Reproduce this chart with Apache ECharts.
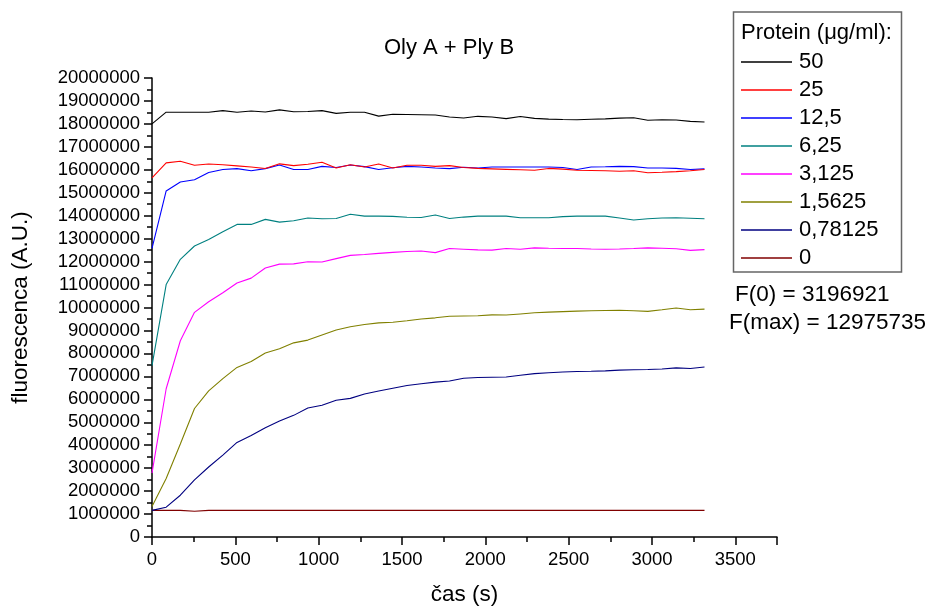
<!DOCTYPE html>
<html>
<head>
<meta charset="utf-8">
<script src="https://cdn.jsdelivr.net/npm/echarts@6/dist/echarts.min.js"></script>
<style>html,body{margin:0;padding:0;background:#fff}#c{width:930px;height:611px}</style>
</head>
<body>
<div id="c"></div>
<script>
// Time points (s): one reading every ~85 s
var times = [0,85,170,255,340,425,510,595,680,765,850,935,1020,1105,1190,1275,1360,1445,1530,1615,1700,1785,1870,1955,2040,2125,2210,2295,2380,2465,2550,2635,2720,2805,2890,2975,3060,3145,3230,3315];

// Series values in millions of A.U.
var s50 = [18.00,18.51,18.51,18.51,18.51,18.58,18.51,18.56,18.52,18.61,18.53,18.54,18.58,18.46,18.51,18.51,18.34,18.42,18.41,18.40,18.39,18.30,18.26,18.33,18.30,18.23,18.32,18.24,18.21,18.19,18.18,18.20,18.22,18.25,18.27,18.16,18.18,18.17,18.11,18.08];
var s25 = [15.65,16.30,16.37,16.20,16.25,16.22,16.17,16.12,16.06,16.26,16.18,16.24,16.33,16.08,16.22,16.12,16.25,16.08,16.20,16.20,16.15,16.18,16.10,16.06,16.04,16.02,16.00,15.98,16.06,16.03,15.98,15.97,15.96,15.94,15.96,15.87,15.89,15.92,15.96,16.01];
var s12_5 = [12.58,15.08,15.47,15.57,15.88,16.01,16.05,15.96,16.05,16.21,16.01,16.01,16.15,16.10,16.21,16.14,16.01,16.09,16.15,16.12,16.08,16.05,16.11,16.08,16.12,16.12,16.12,16.12,16.12,16.10,16.01,16.12,16.13,16.15,16.14,16.08,16.08,16.06,16.01,16.04];
var s6_25 = [7.47,11.00,12.10,12.68,12.96,13.30,13.62,13.62,13.84,13.72,13.78,13.90,13.87,13.88,14.06,13.98,13.98,13.97,13.93,13.92,14.03,13.88,13.94,13.98,13.99,13.98,13.91,13.91,13.91,13.96,13.98,13.98,13.98,13.90,13.81,13.87,13.90,13.91,13.89,13.87];
var s3_125 = [2.78,6.46,8.55,9.79,10.25,10.64,11.07,11.28,11.72,11.89,11.90,11.99,11.98,12.13,12.27,12.31,12.36,12.40,12.44,12.46,12.39,12.57,12.54,12.51,12.50,12.57,12.54,12.60,12.58,12.57,12.57,12.55,12.54,12.55,12.57,12.60,12.58,12.56,12.49,12.52];
var s1_5625 = [1.33,2.55,4.05,5.60,6.37,6.90,7.39,7.65,8.02,8.20,8.46,8.58,8.80,9.02,9.16,9.26,9.33,9.36,9.42,9.50,9.55,9.62,9.63,9.64,9.68,9.67,9.72,9.77,9.80,9.82,9.84,9.86,9.87,9.88,9.86,9.83,9.90,9.98,9.90,9.93];
var s0_78125 = [1.16,1.30,1.82,2.49,3.05,3.57,4.12,4.42,4.76,5.05,5.30,5.62,5.74,5.96,6.04,6.23,6.36,6.48,6.60,6.68,6.75,6.80,6.92,6.95,6.96,6.97,7.05,7.12,7.16,7.19,7.21,7.22,7.24,7.27,7.29,7.30,7.32,7.37,7.34,7.41];
var s0 = [1.16,1.16,1.16,1.12,1.16,1.16,1.16,1.16,1.16,1.16,1.16,1.16,1.16,1.16,1.16,1.16,1.16,1.16,1.16,1.16,1.16,1.16,1.16,1.16,1.16,1.16,1.16,1.16,1.16,1.16,1.16,1.16,1.16,1.16,1.16,1.16,1.16,1.16,1.16,1.16];

var seriesNames = ['50','25','12,5','6,25','3,125','1,5625','0,78125','0'];
var seriesValues = [s50,s25,s12_5,s6_25,s3_125,s1_5625,s0_78125,s0];
var seriesColors = ['#000000','#ff0000','#0000ff','#008080','#ff00ff','#808000','#000080','#800000'];

var titleText = 'Oly A + Ply B';
var xName = 'čas (s)';
var yName = 'fluorescenca (A.U.)';
var legendTitle = 'Protein (μg/ml):';
var note1 = 'F(0) = 3196921';
var note2 = 'F(max) = 12975735';

var FONT = '"Liberation Sans", Arial, sans-serif';

var series = seriesNames.map(function(n, k){
  return {
    name: n, type: 'line', symbol: 'none', showSymbol: false,
    data: times.map(function(t, i){ return [t, Math.round(seriesValues[k][i]*1e6)]; }),
    lineStyle: {color: seriesColors[k], width: 1.1},
    itemStyle: {color: seriesColors[k]},
    animation: false, z: 10 - k
  };
});

function plain(v){ return String(Math.round(v)); }

var chart = echarts.init(document.getElementById('c'), null, {renderer: 'canvas'});
chart.setOption({
  animation: false,
  backgroundColor: '#fff',
  grid: {left: 152, right: 153, top: 78, bottom: 72, containLabel: false},
  legend: {
    orient: 'vertical', left: 741, top: 51, padding: 0,
    itemWidth: 51, itemHeight: 14, itemGap: 6,
    textStyle: {fontFamily: FONT, fontSize: 22, color: '#000', padding: [0,0,0,2]},
    data: seriesNames.map(function(n,k){ return {name: n, icon: 'path://M0,0 L51,0 L51,1.5 L0,1.5 Z'}; })
  },
  xAxis: {
    type: 'value', min: 0, max: 3750, interval: 500,
    name: xName, nameLocation: 'middle', nameGap: 46,
    nameTextStyle: {fontFamily: FONT, fontSize: 22.5, color: '#000'},
    axisLine: {show: true, onZero: false, lineStyle: {color: '#000', width: 1.5}},
    axisTick: {show: true, length: 8, lineStyle: {color: '#000', width: 1.5}},
    minorTick: {show: true, splitNumber: 2, length: 5, lineStyle: {color: '#000', width: 1.5}},
    axisLabel: {fontFamily: FONT, fontSize: 18.5, color: '#000', margin: 13, showMaxLabel: false, formatter: plain},
    splitLine: {show: false}
  },
  yAxis: {
    type: 'value', min: 0, max: 20000000, interval: 1000000,
    name: yName, nameLocation: 'middle', nameGap: 120,
    nameTextStyle: {fontFamily: FONT, fontSize: 22.5, color: '#000'},
    axisLine: {show: true, onZero: false, lineStyle: {color: '#000', width: 1.5}},
    axisTick: {show: true, length: 8, lineStyle: {color: '#000', width: 1.5}},
    minorTick: {show: true, splitNumber: 2, length: 5, lineStyle: {color: '#000', width: 1.5}},
    axisLabel: {fontFamily: FONT, fontSize: 18.5, color: '#000', margin: 12, formatter: plain},
    splitLine: {show: false}
  },
  graphic: [
    {type: 'text', x: 449, y: 48, style: {text: titleText, font: '22px ' + FONT, fill: '#000', textAlign: 'center', textVerticalAlign: 'middle'}},
    {type: 'rect', shape: {x: 733.5, y: 12, width: 168, height: 260}, style: {fill: 'none', stroke: '#666', lineWidth: 1.5}, z: 0},
    {type: 'text', x: 741, y: 33, style: {text: legendTitle, font: '22px ' + FONT, fill: '#000', textVerticalAlign: 'middle'}},
    {type: 'text', x: 735, y: 295, style: {text: note1, font: '22.5px ' + FONT, fill: '#000', textVerticalAlign: 'middle'}},
    {type: 'text', x: 729, y: 323, style: {text: note2, font: '22.5px ' + FONT, fill: '#000', textVerticalAlign: 'middle'}}
  ],
  series: series
});
</script>
</body>
</html>
